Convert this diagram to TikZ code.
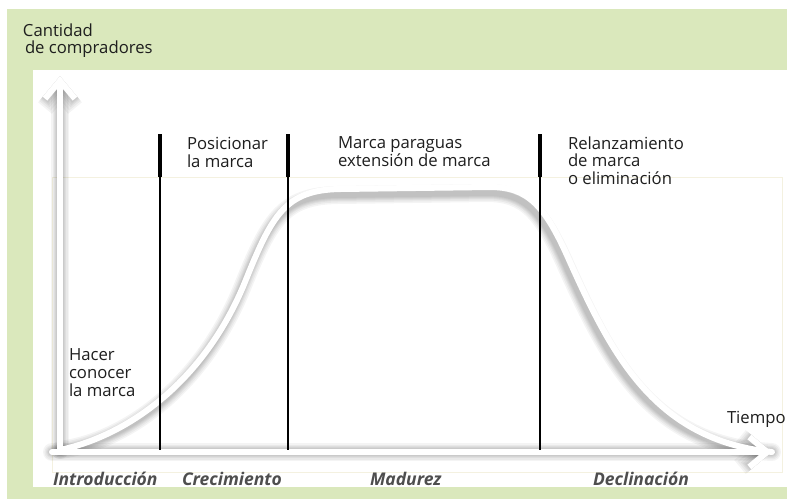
\documentclass[tikz,border=0pt]{standalone}
\usepackage{fontspec}
\setmainfont{Open Sans}
\definecolor{bgcolor}{RGB}{218,232,188}
\definecolor{textcolor}{RGB}{30,30,30}
\definecolor{stagecolor}{RGB}{78,78,78}
\definecolor{framecolor}{RGB}{244,241,224}
\usetikzlibrary{arrows.meta, positioning, calc}

\begin{document}
\begin{tikzpicture}[x=1pt, y=-1pt,
    every node/.style={inner sep=0pt, outer sep=0pt},
    txt/.style={text=textcolor, font=\fontsize{16.7}{17.8}\selectfont, align=left, anchor=north west},
    stage/.style={text=stagecolor, font=\fontsize{17.5}{18}\selectfont\bfseries\itshape, anchor=base west},
    phase/.style={line width=1.8pt, black},
    phasetop/.style={line width=3.2pt, black},
    axistip/.style={-{Straight Barb[length=18pt, width=30pt]}},
    glow/.style={line width=6pt, white, line cap=round},
    shade/.style={line width=#1, black, opacity=0.045, line cap=round},
    lifecurve/.style={insert path={(origin) .. controls (130,435) and (205,380) .. (245,282)
        .. controls (272,215) and (285,190) .. (340,189) -- (490,187)
        .. controls (528,187) and (545,205) .. (570,262)
        .. controls (612,355) and (655,440) .. (xtip)}}]
  \useasboundingbox (0,0) rectangle (787,499);

  % background
  \fill[bgcolor] (7,9) rectangle (787,499);
  \fill[white] (33,70) rectangle (787,487);
  \draw[framecolor, line width=0.6pt] (52,177) rectangle (782,472);

  \coordinate (origin) at (60,450);
  \coordinate (xstart) at (52,452);
  \coordinate (ytip) at (60,76);
  \coordinate (xtip) at (772,452);

  % shadows
  \begin{scope}[shift={(-3,6)}]
    \foreach \w in {18,15,12,10,8,6}{
      \draw[shade=\w pt, axistip] (origin) -- (ytip);
      \draw[shade=\w pt, axistip] (xstart) -- (xtip);
      \draw[shade=\w pt, lifecurve];
    }
  \end{scope}

  % axes and curve
  \draw[glow, axistip] (origin) -- (ytip);
  \draw[glow, axistip] (xstart) -- (xtip);
  \draw[glow, lifecurve];

  % phase lines
  \foreach \x/\n in {160/a, 288/b, 540/c}{
    \coordinate (top\n) at (\x,134);
    \coordinate (mid\n) at (\x,177);
    \coordinate (bot\n) at (\x,450);
    \draw[phasetop] (top\n) -- (mid\n);
    \draw[phase] (mid\n) -- (bot\n);
  }

  % labels
  \node[txt] (ylabel) at (23,23.5) {Cantidad\\\hspace{2pt}de compradores};
  \node[txt] (intro) at (69,348.5) {Hacer\\conocer\\la marca};
  \node[txt] (posic) at (187,137.5) {Posicionar\\la marca};
  \node[txt] (parag) at (338,137) {Marca paraguas\\extensión de marca};
  \node[txt] (relanz) at (568,136.5) {Relanzamiento\\de marca\\o eliminación};
  \node[txt, anchor=base west] (tiempo) at (727,423) {Tiempo};

  % stages
  \node[stage] (s1) at (53,485.5) {Introducción};
  \node[stage] (s2) at (182,485.5) {Crecimiento};
  \node[stage] (s3) at (370,485.5) {Madurez};
  \node[stage] (s4) at (593,485.5) {Declinación};
\end{tikzpicture}
\end{document}
